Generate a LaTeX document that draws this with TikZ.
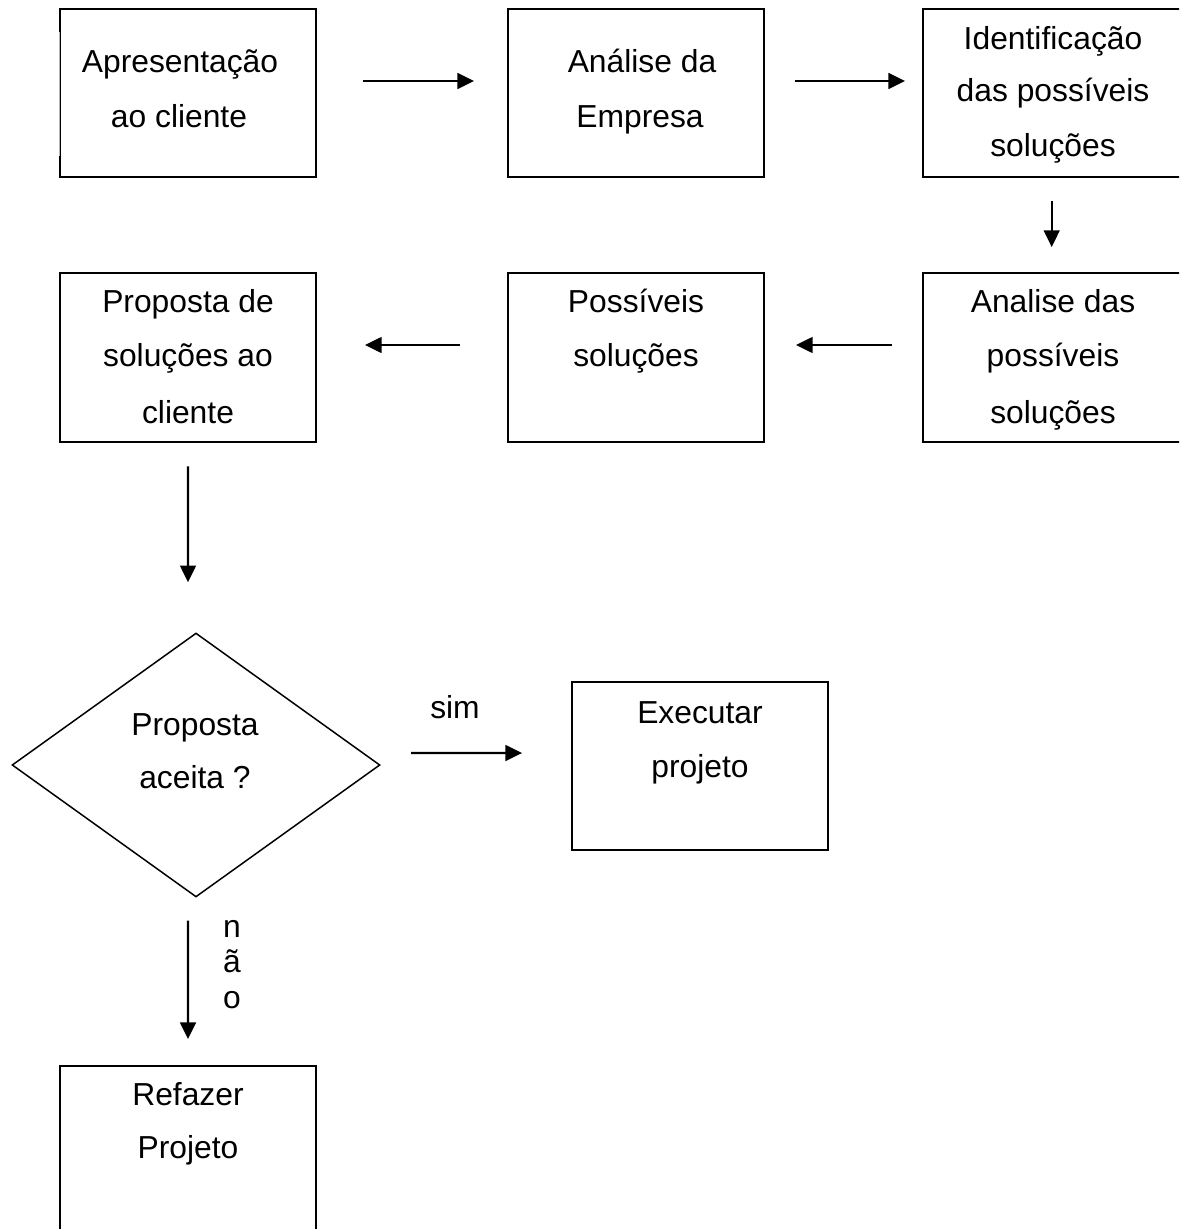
\documentclass[tikz,border=0pt]{standalone}
\usepackage{fontspec}
\setmainfont{Liberation Sans}
\usetikzlibrary{arrows.meta,shapes.geometric}
\begin{document}
\begin{tikzpicture}[x=0.02cm,y=-0.02cm,
  box/.style={draw, line width=1.1pt, minimum width=5.12cm, minimum height=3.36cm, inner sep=0pt},
  txt/.style={anchor=base, inner sep=0pt, font=\fontsize{18.1}{22}\selectfont},
  arr/.style={line width=1.15pt, -{Triangle[length=9.5pt,width=9pt]}}]
\path[use as bounding box, clip] (0,0) rectangle (1179,1229);
\fill[white] (0,0) rectangle (1179,1229);
% boxes
\node[box] (b1) at (188,93) {};
\node[box] (b2) at (636,93) {};
\node[box, minimum width=5.3cm] (b3) at (1055,93) {};
\node[box, minimum width=5.3cm, minimum height=3.38cm] (b4) at (1055,357.5) {};
\node[box, minimum height=3.38cm] (b5) at (636,357.5) {};
\node[box, minimum height=3.38cm] (b6) at (188,357.5) {};
\node[draw, diamond, line width=0.85pt, minimum width=7.36cm, minimum height=5.28cm, inner sep=0pt] (d) at (196,765) {};
\node[box] (ex) at (700,766) {};
\node[box, minimum height=4cm] (rf) at (188,1166) {};
% left edge detail of first box
\draw[white, line width=1.6pt] ([yshift=-0.48cm]b1.north west) -- ([yshift=0.44cm]b1.south west);
\draw[gray!60, line width=0.4pt] ([yshift=-0.48cm]b1.north west) -- ([yshift=0.44cm]b1.south west);
% texts
\node[txt] (t1a) at (180,73) {Apresentação};
\node[txt] (t1b) at (179,128) {ao cliente};
\node[txt] (t2a) at (642,73) {Análise da};
\node[txt] (t2b) at (640,128) {Empresa};
\node[txt] (t3a) at (1053,50) {Identificação};
\node[txt] (t3b) at (1053,102) {das possíveis};
\node[txt] (t3c) at (1053,157) {soluções};
\node[txt] (t4a) at (1053,313) {Analise das};
\node[txt] (t4b) at (1053,367) {possíveis};
\node[txt] (t4c) at (1053,423) {soluções};
\node[txt] (t5a) at (636,313) {Possíveis};
\node[txt] (t5b) at (636,367) {soluções};
\node[txt] (t6a) at (188,313) {Proposta de};
\node[txt] (t6b) at (188,367) {soluções ao};
\node[txt] (t6c) at (188,423) {cliente};
\node[txt] (tda) at (195,735) {Proposta};
\node[txt] (tdb) at (195,788) {aceita ?};
\node[txt] (tsim) at (455,718) {sim};
\node[txt] (texa) at (700,723) {Executar};
\node[txt] (texb) at (700,777) {projeto};
\node[txt] (tn1) at (232,937) {n};
\node[txt] (tn2) at (232,972) {ã};
\node[txt] (tn3) at (232,1008) {o};
\node[txt] (trfa) at (188,1105) {Refazer};
\node[txt] (trfb) at (188,1158) {Projeto};
% arrows
\draw[arr, shorten <=0.93cm, shorten >=0.66cm] ([yshift=0.24cm]b1.east) -- ([yshift=0.24cm]b2.west);
\draw[arr, shorten <=0.6cm, shorten >=0.33cm] ([yshift=0.24cm]b2.east) -- ([yshift=0.24cm]b3.west);
\draw[arr, shorten <=0.46cm, shorten >=0.5cm] ([xshift=-0.066cm]b3.south) -- ([xshift=-0.066cm]b4.north);
\draw[arr, shorten <=0.59cm, shorten >=0.62cm] ([yshift=0.25cm]b4.west) -- ([yshift=0.25cm]b5.east);
\draw[arr, shorten <=0.95cm, shorten >=0.96cm] ([yshift=0.25cm]b5.west) -- ([yshift=0.25cm]b6.east);
\draw[arr, shorten <=0.47cm, shorten >=1cm] (b6.south) -- ([xshift=-0.16cm]d.north);
\draw[arr, shorten <=0.61cm, shorten >=0.98cm] ([yshift=0.24cm]d.east) -- ([yshift=0.26cm]ex.west);
\draw[arr, shorten <=0.46cm, shorten >=0.52cm] ([xshift=-0.16cm]d.south) -- (rf.north);
\end{tikzpicture}
\end{document}
